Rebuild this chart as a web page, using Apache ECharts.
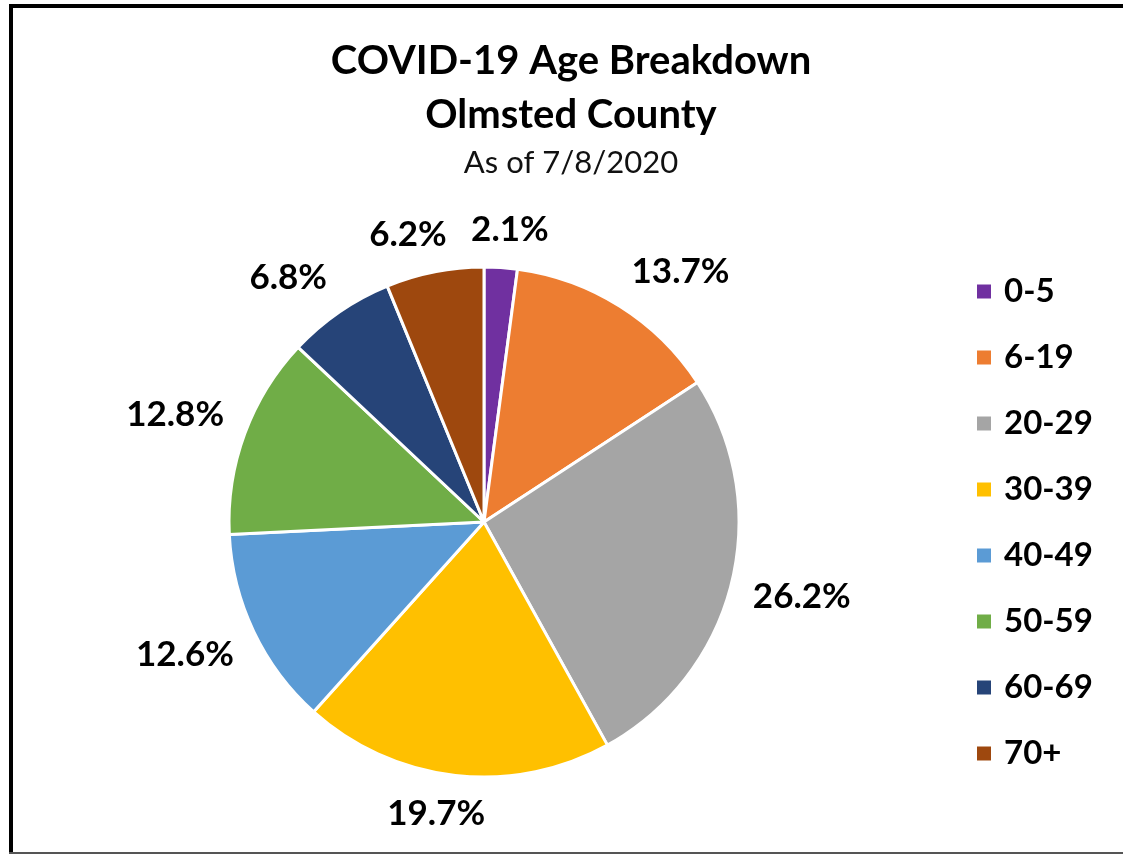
<!DOCTYPE html>
<html>
<head>
<meta charset="utf-8">
<script src="https://cdn.jsdelivr.net/npm/echarts@6/dist/echarts.min.js"></script>
<style>
  html, body { margin: 0; padding: 0; background: #fff; }
  #chart { width: 1123px; height: 854px; }
</style>
</head>
<body>
<div id="chart"></div>
<script>
// 年龄段和百分比
var ageGroups = ['0-5', '6-19', '20-29', '30-39', '40-49', '50-59', '60-69', '70+'];
var percents = [2.1, 13.7, 26.2, 19.7, 12.6, 12.8, 6.8, 6.2];
var colors = ['#7030A0', '#ED7D31', '#A5A5A5', '#FFC000', '#5B9BD5', '#70AD47', '#264478', '#9E480E'];

var pieData = [];
for (var i = 0; i < ageGroups.length; i++) {
	pieData.push({ name: ageGroups[i], value: percents[i] });
}

var myChart = echarts.init(document.getElementById('chart'));
var fontName = 'Lato';
var cx = 484, cy = 522, R = 255;

// 每个扇区中线角度（从正上方顺时针）
var total = 0;
for (var i = 0; i < percents.length; i++) total += percents[i];
var midAngles = [];
var acc = 0;
for (var i = 0; i < percents.length; i++) {
	midAngles.push((acc + percents[i] / 2) / total * Math.PI * 2);
	acc += percents[i];
}

function clamp1(v) {
	return Math.max(-1, Math.min(1, v));
}

var option = {
	backgroundColor: '#fff',
	color: colors,
	title: {
		text: 'COVID-19 Age Breakdown\nOlmsted County',
		subtext: 'As of 7/8/2020',
		left: 566,
		top: 29,
		textAlign: 'center',
		itemGap: 4,
		textStyle: {
			fontFamily: fontName,
			fontSize: 40,
			fontWeight: 'bold',
			color: '#000',
			lineHeight: 54
		},
		subtextStyle: {
			fontFamily: fontName,
			fontSize: 31,
			color: '#111',
			lineHeight: 34
		}
	},
	legend: {
		orient: 'vertical',
		left: 975,
		top: 275,
		padding: 0,
		itemWidth: 16,
		itemHeight: 16,
		itemGap: 33,
		icon: 'rect',
		data: ageGroups,
		textStyle: {
			fontFamily: fontName,
			fontSize: 33,
			fontWeight: 'bold',
			color: '#000',
			lineHeight: 33,
			padding: [0, 0, 0, 7]
		}
	},
	graphic: [
		{ type: 'rect', shape: { x: 9, y: 4, width: 1114, height: 4 }, style: { fill: '#000' } },
		{ type: 'rect', shape: { x: 9, y: 4, width: 4, height: 850 }, style: { fill: '#000' } },
		{ type: 'rect', shape: { x: 9, y: 852, width: 1114, height: 2 }, style: { fill: '#555' } }
	],
	series: [{
		type: 'pie',
		center: [cx, cy],
		radius: R,
		startAngle: 90,
		clockwise: true,
		data: pieData,
		itemStyle: {
			borderColor: '#fff',
			borderWidth: 3
		},
		label: {
			show: true,
			position: 'outside',
			formatter: function (p) { return p.value.toFixed(1) + '%'; },
			fontFamily: fontName,
			fontSize: 35,
			fontWeight: 'bold',
			color: '#000'
		},
		labelLine: { show: false },
		// 标签放在扇区外侧，模仿Excel的“数据标签外”位置
		labelLayout: function (params) {
			var a = midAngles[params.dataIndex];
			var s = Math.sin(a), c = Math.cos(a);
			var w = params.labelRect.width;
			var d = R + 22;
			return {
				x: cx + s * d + w / 2 * clamp1(3 * s),
				y: cy - c * d - 16 * clamp1(2 * c),
				align: 'center',
				verticalAlign: 'middle'
			};
		},
		emphasis: { disabled: true }
	}]
};

myChart.setOption(option);
</script>
</body>
</html>
